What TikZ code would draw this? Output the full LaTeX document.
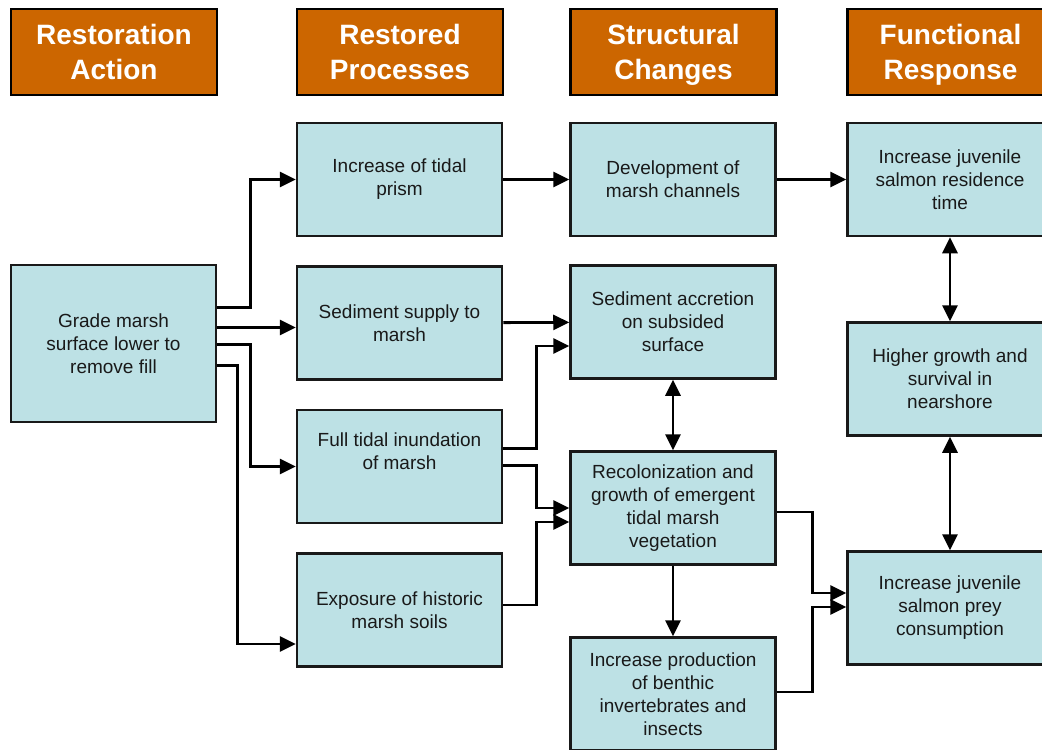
\documentclass[tikz,border=0pt]{standalone}
\usepackage{fontspec}
\setmainfont{Liberation Sans}
\usetikzlibrary{positioning}
\usetikzlibrary{arrows.meta}
\definecolor{headorange}{RGB}{204,102,0}
\definecolor{boxblue}{RGB}{189,225,229}

\begin{document}
\begin{tikzpicture}[x=1pt,y=-1pt,
headnode/.style={rectangle, draw=black, fill=headorange, line width=2.5pt, minimum width=206pt, minimum height=86pt, align=center, text=white, text depth=0pt, font=\fontsize{28}{34.5}\selectfont\bfseries},
boxnode/.style={rectangle, draw=black!90, fill=boxblue, line width=2.5pt, minimum width=205pt, minimum height=113pt, align=center, text=black!90, font=\fontsize{19}{23}\selectfont},
link/.style={line width=2.8pt, -{Triangle[length=16pt,width=15pt]}},
twoway/.style={line width=2.8pt, {Triangle[length=16pt,width=15pt]}-{Triangle[length=16pt,width=15pt]}}]
\useasboundingbox (0,0) rectangle (1042,750);
\fill[white] (0,0) rectangle (1042,750);
\clip (0,0) rectangle (1042,750);

% column headings
\node[headnode] (hact) at (114,52) {Restoration\\Action};
\node[headnode] (hproc) at (400,52) {Restored\\Processes};
\node[headnode] (hstruc) at (673.5,52) {Structural\\Changes};
\node[headnode] (hfunc) at (950.5,52) {Functional\\Response};

% restoration action
\node[boxnode, minimum height=157pt] (grade) at (113.5,343.5) {Grade marsh\\surface lower to\\remove fill};

% restored processes
\node[boxnode] (prism) at (399.5,179.5) {Increase of tidal\\prism};
\node[boxnode] (supply) [below=28pt of prism] {Sediment supply to\\marsh};
\node[boxnode] (tidal) [below=28pt of supply] {Full tidal inundation\\of marsh\\\strut};
\node[boxnode] (expo) [below=28pt of tidal] {Exposure of historic\\marsh soils};

% structural changes
\node[boxnode] (devel) at (673,179.5) {Development of\\marsh channels};
\node[boxnode] (accr) at (673,322) {Sediment accretion\\on subsided\\surface};
\node[boxnode] (recol) at (673,508) {Recolonization and\\growth of emergent\\tidal marsh\\vegetation};
\node[boxnode] (prod) at (673,694) {Increase production\\of benthic\\invertebrates and\\insects};

% functional response
\node[boxnode] (resid) at (950,179.5) {Increase juvenile\\salmon residence\\time};
\node[boxnode] (growth) at (950,379) {Higher growth and\\survival in\\nearshore};
\node[boxnode] (prey) at (950,608) {Increase juvenile\\salmon prey\\consumption};

% action -> processes
\draw[link] ([yshift=36pt]grade.east) -- ++(33,0) |- (prism.west);
\draw[link] ([yshift=16pt]grade.east) -- ([yshift=-4.5pt]supply.west);
\draw[link] ([yshift=-1pt]grade.east) -- ++(33,0) |- (tidal.west);
\draw[link] ([yshift=-22pt]grade.east) -- ++(20,0) |- ([yshift=-34pt]expo.west);

% processes -> structure
\draw[link] (prism) -- (devel);
\draw[link] (supply) -- (accr);
\draw[link] ([yshift=18pt]tidal.east) -- ++(33,0) |- ([yshift=-24pt]accr.west);
\draw[link] ([yshift=1pt]tidal.east) -- ++(33,0) |- (recol.west);
\draw[link] ([yshift=5pt]expo.east) -- ++(33,0) |- ([yshift=-14pt]recol.west);
\draw[twoway] (accr) -- (recol);
\draw[link] (recol) -- (prod);

% structure -> response
\draw[link] (devel) -- (resid);
\draw[link] ([yshift=-4pt]recol.east) -- ++(36,0) |- ([yshift=15pt]prey.west);
\draw[link] ([yshift=2pt]prod.east) -- ++(36,0) |- ([yshift=1pt]prey.west);
\draw[twoway] (resid) -- (growth);
\draw[twoway] (growth) -- (prey);
\end{tikzpicture}
\end{document}
